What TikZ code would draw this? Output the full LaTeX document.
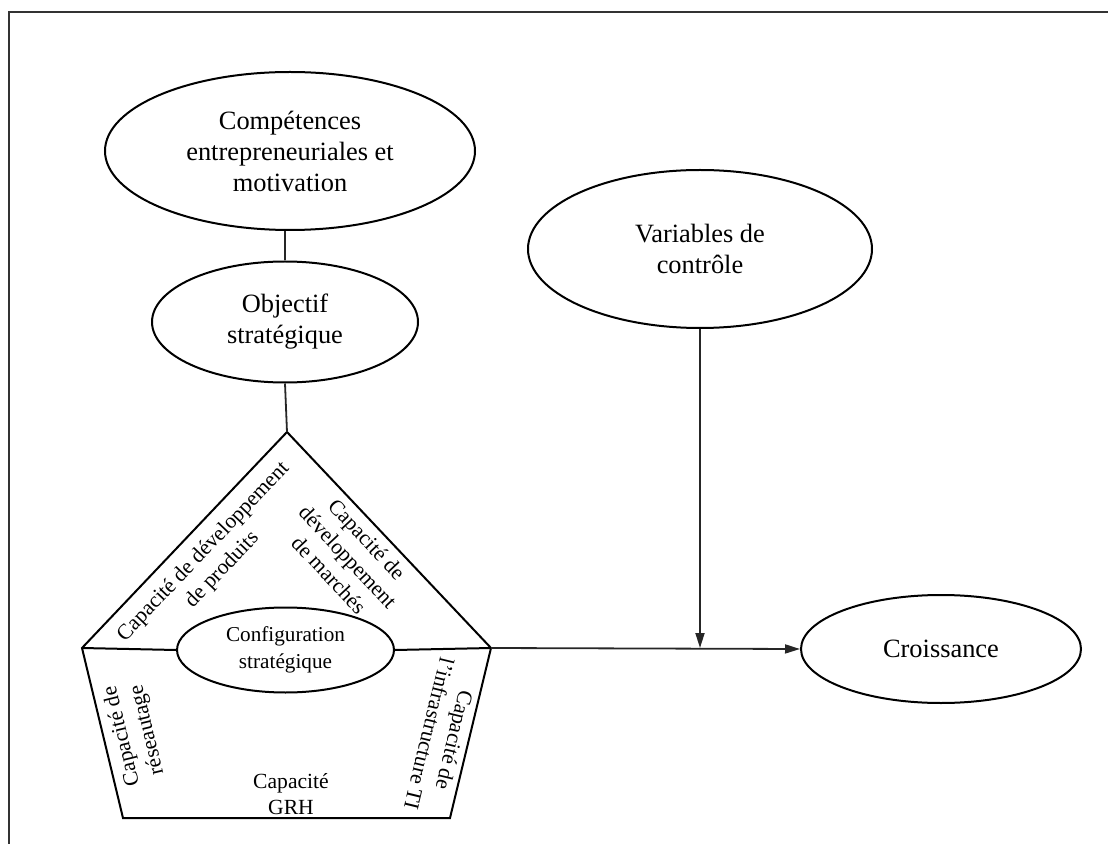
\documentclass[tikz,border=0pt]{standalone}
\usepackage{fontspec}
\setmainfont{Liberation Serif}
\usetikzlibrary{shapes.geometric,arrows.meta}

\tikzset{
  bigoval/.style={draw, ellipse, inner sep=0pt, align=center, line width=1pt,
    font=\fontsize{13.2pt}{15.5pt}\selectfont},
  smalloval/.style={draw, ellipse, inner sep=0pt, align=center, line width=1pt,
    font=\fontsize{10.6pt}{13.5pt}\selectfont},
  sidelabel/.style={inner sep=0pt, align=center,
    font=\fontsize{10.8pt}{13pt}\selectfont},
  link/.style={line width=0.9pt, draw=black!85},
  tip/.style={-{Triangle[length=7.5pt,width=4.5pt]}}
}

\begin{document}
\begin{tikzpicture}[x=0.5pt, y=-0.5pt]
  \useasboundingbox (0,0) rectangle (1108,844);

  % page frame (left and top rules)
  \draw[line width=1pt, draw=black!80] (9,844) -- (9,12) -- (1108,12);

  % ovals
  \node[bigoval, minimum width=185pt, minimum height=79pt] (comp) at (290,151)
    {Compétences\\entrepreneuriales et\\motivation};
  \node[bigoval, minimum width=133pt, minimum height=60.5pt] (obj) at (285,322)
    {Objectif\\stratégique};
  \node[bigoval, minimum width=172pt, minimum height=79pt] (var) at (700,249)
    {Variables de\\contrôle};
  \node[bigoval, minimum width=140pt, minimum height=54pt] (croiss) at (941,649)
    {Croissance};

  % pentagon of capabilities
  \coordinate (apex) at (287,432);
  \coordinate (L) at (82,648);
  \coordinate (R) at (491,648);
  \coordinate (BL) at (123,818);
  \coordinate (BR) at (450,818);
  \draw[line width=1pt] (apex) -- (L) -- (BL) -- (BR) -- (R) -- cycle;

  \node[smalloval, fill=white, minimum width=108.5pt, minimum height=42.5pt] (config)
    at (285.5,650) {Configuration\\stratégique};

  % capability labels along the sides
  \node[sidelabel, rotate=46.4] (prod) at (213,561)
    {Capacité de développement\\de produits};
  \node[sidelabel, rotate=-46.9] (march) at (348,557)
    {Capacité de\\développement\\de marchés};
  \node[sidelabel, rotate=103.6] (reseau) at (135,733)
    {Capacité de\\réseautage};
  \node[sidelabel, rotate=-103.6] (infra) at (442,737)
    {Capacité de\\l’infrastructure TI};
  \node[sidelabel] (grh) at (291,794) {Capacité\\GRH};

  % connectors
  \draw[link] (obj.north) -- (obj.north |- comp.south);
  \draw[link] (obj.south) -- (apex);
  \draw[line width=1pt] (L) -- (config.west);
  \draw[line width=1pt] (config.east) -- (R);
  \draw[link, tip] (R) -- (croiss.west);
  \coordinate (meet) at (var.south |- R);
  \draw[link, tip] (var.south) -- (meet);
\end{tikzpicture}
\end{document}
